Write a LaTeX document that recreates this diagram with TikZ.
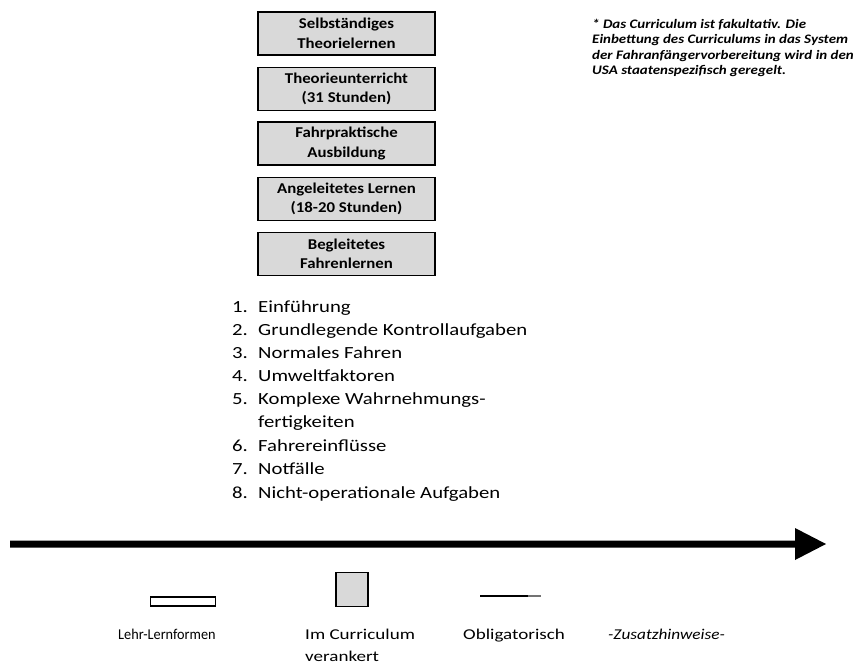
\documentclass[tikz,border=0pt]{standalone}
\usepackage{fontspec}
\setmainfont{Carlito}
\newfontfamily\boxfont[FakeStretch=1.12]{Carlito}
\newfontfamily\listfont[FakeStretch=1.22]{Carlito}
\newfontfamily\notefont[FakeStretch=1.15]{Carlito}
\newfontfamily\legfont[FakeStretch=1.27]{Carlito}
\newfontfamily\legifont[FakeStretch=1.15]{Carlito}
\newfontfamily\legnfont[FakeStretch=0.95]{Carlito}
\begin{document}
\begin{tikzpicture}[x=1pt,y=-1pt,
  curbox/.style={draw=black,line width=1.8pt,fill=black!15,minimum width=177pt,minimum height=43pt,inner sep=0pt,align=center,font=\boxfont\fontsize{15}{19.5}\selectfont\bfseries},
  listnum/.style={anchor=base west,inner sep=0pt,font=\listfont\fontsize{17}{19}\selectfont},
  legtext/.style={anchor=base west,inner sep=0pt,font=\legfont\fontsize{15}{20}\selectfont}]
\useasboundingbox (0,0) rectangle (858,666);
\node[curbox] (b1) at (346.5,33.5) {Selbständiges\\Theorielernen};
\node[curbox] (b2) at (346.5,89) {Theorieunterricht\\(31 Stunden)};
\node[curbox] (b3) at (346.5,143.5) {Fahrpraktische\\Ausbildung};
\node[curbox] (b4) at (346.5,199) {Angeleitetes Lernen\\(18-20 Stunden)};
\node[curbox] (b5) at (346.5,254) {Begleitetes\\Fahrenlernen};
\node[anchor=north west,inner sep=0pt,align=left,font=\notefont\fontsize{13}{15.3}\selectfont\bfseries\itshape] (note) at (592,19) {* Das Curriculum ist fakultativ. Die\\Einbettung des Curriculums in das System\\der Fahranfängervorbereitung wird in den\\USA staatenspezifisch geregelt.};
\foreach \n/\t/\y in {1/Einführung/312,2/Grundlegende Kontrollaufgaben/335,3/Normales Fahren/358,4/Umweltfaktoren/381,5/Komplexe Wahrnehmungs-/404,6/Fahrereinflüsse/451,7/Notfälle/474,8/Nicht-operationale Aufgaben/498}{
  \node[listnum] (n\n) at (232,\y) {\n.};
  \node[listnum] (t\n) at (258,\y) {\t};
}
\node[listnum] (t5b) at (258,427) {fertigkeiten};
\fill (10,540.5) -- (795,540.5) -- (795,528) -- (826,544) -- (795,560) -- (795,547.5) -- (10,547.5) -- cycle;
\node[draw=black,line width=1.6pt,fill=white,minimum width=65pt,minimum height=9pt,inner sep=0pt] (l1) at (183,601.5) {};
\node[draw=black,line width=1.6pt,fill=black!15,minimum width=32pt,minimum height=34pt,inner sep=0pt] (l2) at (352,589.5) {};
\coordinate (l3a) at (480,596);
\coordinate (l3b) at (528,596);
\coordinate (l3c) at (541,596);
\draw[line width=1.5pt] (l3a) -- (l3b);
\draw[line width=1.5pt,black!55] (l3b) -- (l3c);
\node[legtext,font=\legnfont\fontsize{15}{20}\selectfont] (g1) at (118,639) {Lehr-Lernformen};
\node[legtext] (g2) at (305,639) {Im Curriculum};
\node[legtext] (g2b) at (305,661) {verankert};
\node[legtext] (g3) at (463,639) {Obligatorisch};
\node[legtext,font=\legifont\fontsize{15}{20}\selectfont\itshape] (g4) at (608,639) {-Zusatzhinweise-};
\end{tikzpicture}
\end{document}
